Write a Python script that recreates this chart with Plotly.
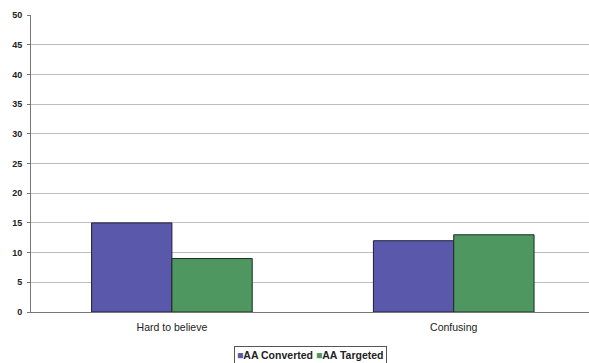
import plotly.graph_objects as go

categories = ["Hard to believe", "Confusing"]
aa_converted = [15, 12]
aa_targeted = [9, 13]
y_ticks = [0, 5, 10, 15, 20, 25, 30, 35, 40, 45, 50]

series_names = ["AA Converted", "AA Targeted"]
series_colors = ["#5a58aa", "#4f9760"]

fig = go.Figure()
fig.add_trace(go.Bar(
    name=series_names[0], x=categories, y=aa_converted,
    marker=dict(color=series_colors[0], line=dict(color="#1e1e3a", width=1)),
))
fig.add_trace(go.Bar(
    name=series_names[1], x=categories, y=aa_targeted,
    marker=dict(color=series_colors[1], line=dict(color="#1e2e22", width=1)),
))

# compact boxed legend: coloured square + bold label per series
legend_text = " ".join(
    f'<span style="color:{c}">■</span>{n}' for n, c in zip(series_names, series_colors)
)
fig.add_annotation(
    text=legend_text, showarrow=False,
    xref="paper", yref="paper", x=0.5, y=-0.145, xanchor="center", yanchor="middle",
    font=dict(size=10.5, family="Liberation Sans, Arial", color="#222222", weight="bold"),
    bordercolor="#555555", borderwidth=1, borderpad=2, bgcolor="white",
)

fig.update_layout(
    width=589, height=363,
    margin=dict(l=31, r=0, t=15, b=51),
    plot_bgcolor="white", paper_bgcolor="white",
    barmode="group", bargap=0.43, bargroupgap=0,
    font=dict(family="Liberation Sans, Arial", color="#222222"),
    showlegend=False,
    xaxis=dict(
        range=[-0.5, 1.48], showgrid=False,
        showline=True, linecolor="#777777", linewidth=1,
        ticks="", tickfont=dict(size=10.5), automargin=False,
        ticklabelstandoff=5,
    ),
    yaxis=dict(
        range=[0, 50], tickvals=y_ticks,
        showgrid=True, gridcolor="#bdbdbd", gridwidth=1,
        showline=True, linecolor="#777777", linewidth=1,
        ticks="outside", ticklen=3, tickcolor="#777777",
        tickfont=dict(size=9, family="Liberation Sans, Arial", color="#222222", weight="bold"),
        zeroline=False, automargin=False, ticklabelstandoff=3,
    ),
)

fig.write_html("out.html")
